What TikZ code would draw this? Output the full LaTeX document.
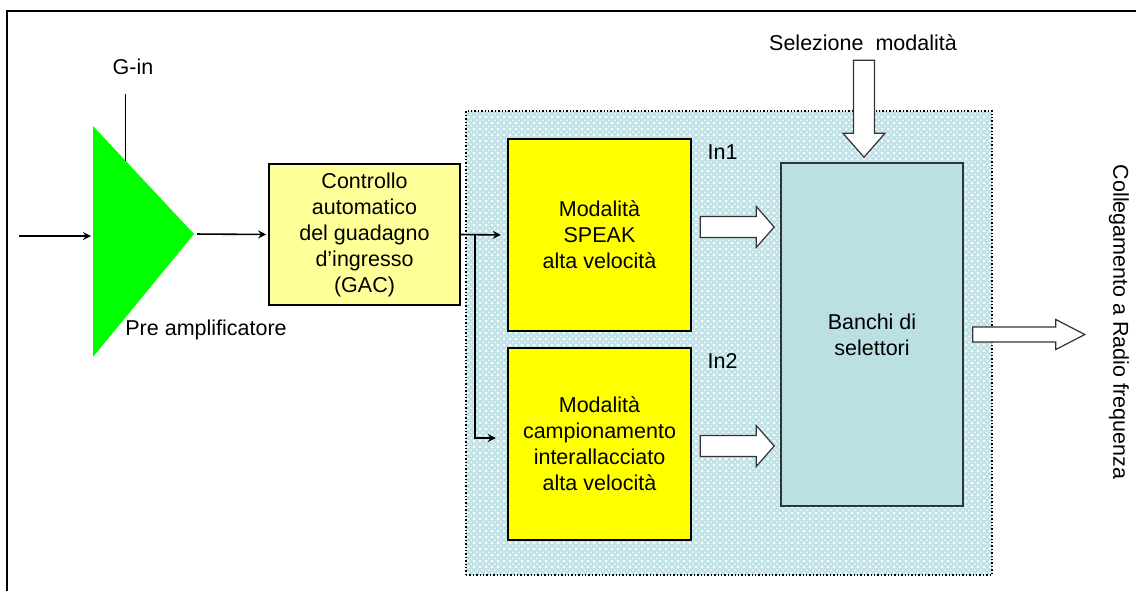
\documentclass[tikz,border=0pt]{standalone}
\usepackage{fontspec}
\setmainfont{Liberation Sans}
\usetikzlibrary{calc,patterns}

\definecolor{ampgreen}{RGB}{0,255,0}
\definecolor{gacyellow}{RGB}{255,255,153}
\definecolor{modeyellow}{RGB}{255,255,0}
\definecolor{selblue}{RGB}{187,224,227}
\definecolor{zoneblue}{RGB}{190,226,231}

% hollow block arrow: from, tip, shaft half width, head half width, head length
\newcommand{\fatarrow}[5]{%
  \coordinate (fa-base) at ($(#2)!#5!(#1)$);
  \draw[hollow] ($(#1)!#3!90:(#2)$) -- ($(fa-base)!#3!90:(#2)$) -- ($(fa-base)!#4!90:(#2)$)
    -- (#2) -- ($(fa-base)!#4!-90:(#2)$) -- ($(fa-base)!#3!-90:(#2)$) -- ($(#1)!#3!-90:(#2)$) -- cycle;}

\begin{document}
\begin{tikzpicture}[x=0.5pt,y=-0.5pt,font=\fontsize{10.75}{13}\selectfont]
		\tikzstyle{sig}=[->,>=stealth,line width=0.8pt,shorten >=1pt]
		\tikzstyle{block}=[draw=black,line width=0.8pt,align=center,inner sep=0pt]
		\tikzstyle{gac block}=[block,fill=gacyellow,minimum width=95.5pt,minimum height=70.5pt]
		\tikzstyle{mode block}=[block,fill=modeyellow,line width=1.2pt,minimum width=91.5pt,minimum height=96pt]
		\tikzstyle{sel block}=[block,draw=black!80,fill=selblue,minimum width=91pt,minimum height=171.5pt]
		\tikzstyle{zone}=[draw=black,densely dotted,line width=0.7pt,preaction={fill=zoneblue},pattern=crosshatch,pattern color=white,minimum width=263pt,minimum height=232pt]
		\tikzstyle{hollow}=[draw=black!80,fill=white,line width=0.6pt,line join=miter]
		\tikzstyle{annot}=[inner sep=0pt]
		
		\useasboundingbox (0,0) rectangle (1136,591);
		
		% Outer frame
		\draw[line width=1pt] (7,591) -- (7,11) -- (1136,11);
		
		% Draw the pre amplifier
		\coordinate (amp-a) at (93,126);
		\coordinate (amp-b) at (93,357);
		\coordinate (amp-tip) at (194,234);
		\fill[ampgreen] (amp-a) -- (amp-tip) -- (amp-b) -- cycle;
		\node[annot] (gin) at (133,67) {G-in};
		\coordinate (gin-foot) at ($(amp-a)!0.32!(amp-tip)$);
		\draw[line width=0.6pt] (gin-foot) -- ++(0,-67);
		\node[annot,anchor=west] (pre) at (125,330) {Pre amplificatore};
		
		% Gain control
		\node[gac block] (gac) at (364.5,234.5) {Controllo\\automatico\\del guadagno\\d’ingresso\\(GAC)};
		
		% High speed zone with the two modes and the selector banks
		\node[zone] (zone) at (729,343) {};
		\node[mode block] (speak) at (599.5,235) {Modalità\\SPEAK\\alta velocità};
		\node[mode block] (interl) at (599.5,444) {Modalità\\campionamento\\interallacciato\\alta velocità};
		\node[sel block] (banchi) at (872,334.5) {Banchi di\\selettori};
		\node[annot,anchor=west] (in1) at ($(speak.north east)+(15,14)$) {In1};
		\node[annot,anchor=west] (in2) at ($(interl.north east)+(15,14)$) {In2};
		
		% Signal path
		\coordinate (src) at (19,236);
		\draw[sig] (src) -- (src -| amp-a);
		\draw[sig,shorten <=1.5pt] (amp-tip) -- (gac.west);
		\coordinate (br) at ($(gac.east)+(14,0)$);
		\draw[sig,shorten >=3pt] (gac.east) -- (speak.west);
		\draw[sig,shorten >=5.5pt] (br) |- ($(interl.west)+(0,-6)$);
		
		% Block arrows
		\coordinate (in1-from) at ($(speak.east)+(8,-8)$);
		\coordinate (in1-to) at ($(in1-from -| banchi.west)+(-6,0)$);
		\fatarrow{in1-from}{in1-to}{5.25pt}{10.25pt}{9pt}
		\coordinate (in2-from) at ($(interl.east)+(8,2)$);
		\coordinate (in2-to) at ($(in2-from -| banchi.west)+(-6,0)$);
		\fatarrow{in2-from}{in2-to}{5.25pt}{10.25pt}{9pt}
		
		\node[annot] (selez) at (863,43) {Selezione\ \ modalità};
		\coordinate (sel-tip) at ($(banchi.north)+(-8,-5)$);
		\coordinate (sel-from) at ($(sel-tip)+(0,-97)$);
		\fatarrow{sel-from}{sel-tip}{5.25pt}{10.5pt}{12pt}
		
		\coordinate (rf-from) at ($(banchi.east)+(9,0)$);
		\coordinate (rf-to) at ($(rf-from)+(112,0)$);
		\fatarrow{rf-from}{rf-to}{3.75pt}{7.5pt}{14.5pt}
		\node[annot,rotate=-90] (rf) at (1119,322) {Collegamento a Radio frequenza};
\end{tikzpicture}
\end{document}
